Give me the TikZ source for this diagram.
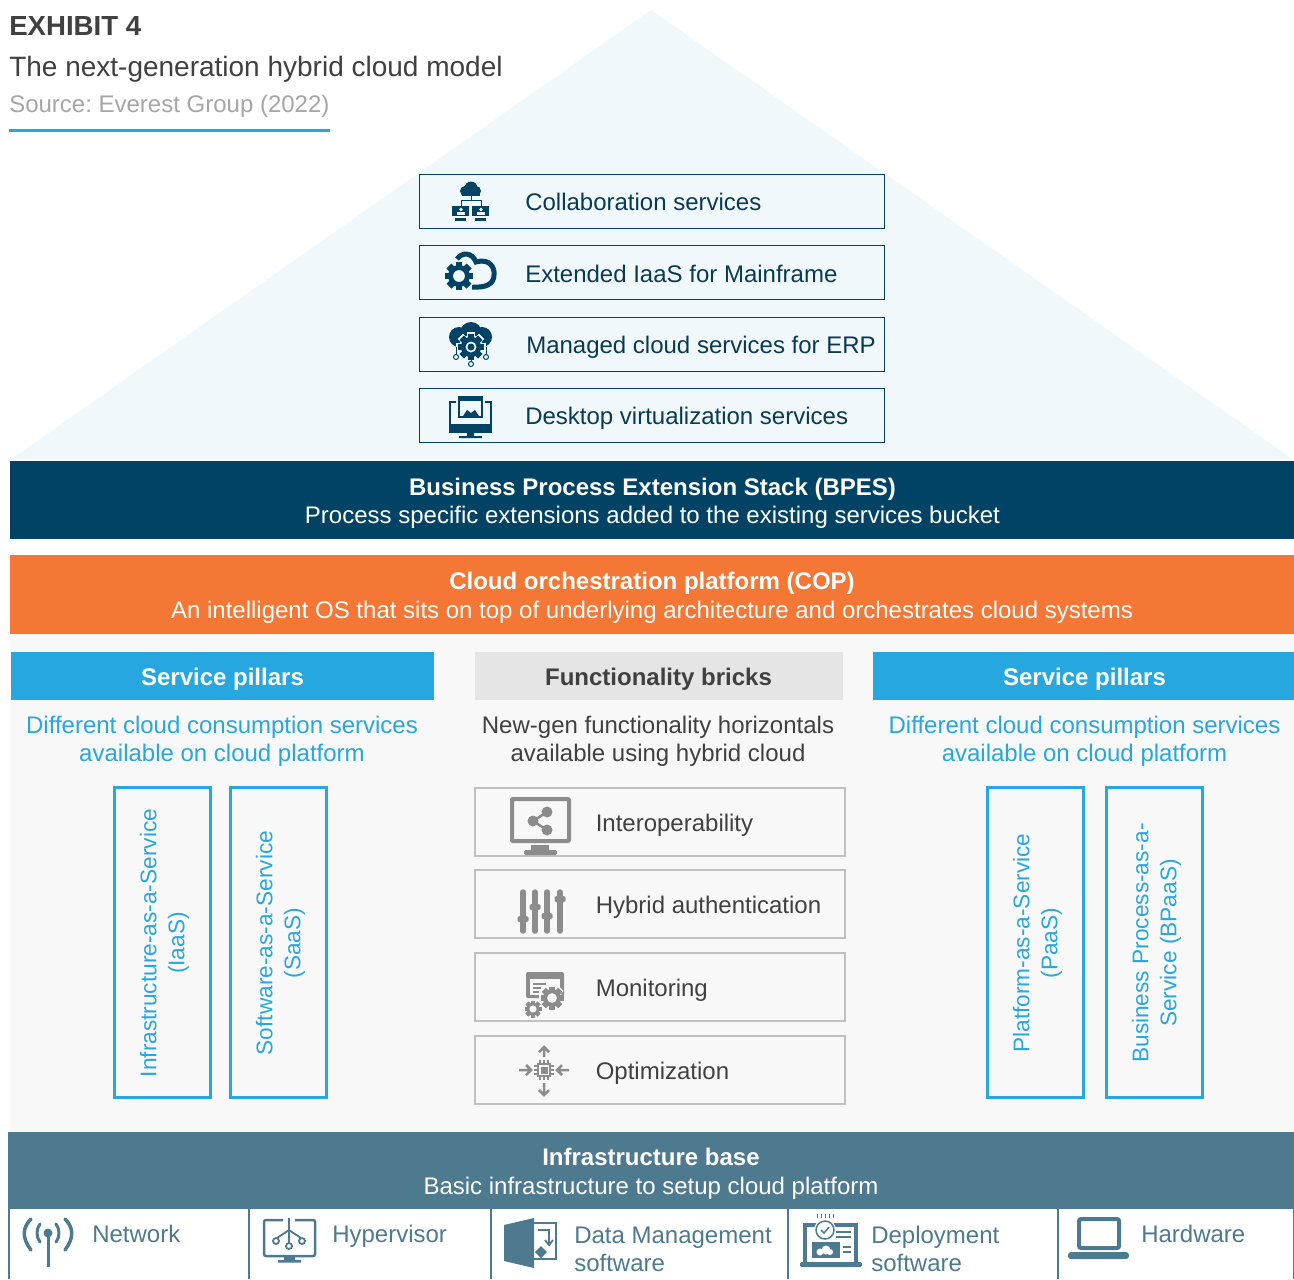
\documentclass[tikz,border=0pt]{standalone}
\usepackage{fontspec}
\setmainfont{Liberation Sans}
\usepackage{xcolor}
\usetikzlibrary{positioning}
\definecolor{hcnavy}{RGB}{0, 67, 100}
\definecolor{hcink}{RGB}{10, 58, 82}
\definecolor{hcorange}{RGB}{244, 119, 53}
\definecolor{hcsky}{RGB}{39, 167, 224}
\definecolor{hcteal}{RGB}{78, 122, 144}
\definecolor{hcgrey}{RGB}{64, 64, 64}
\definecolor{hcicon}{RGB}{140, 140, 140}
\definecolor{hcroof}{RGB}{240, 248, 252}
\definecolor{hcpanel}{RGB}{248, 248, 248}
\def\px{*0.75pt}
% one gear: x, y, radius, colour, hole colour
\newcommand{\gearicon}[5]{
    \foreach \ang in {0,45,...,315}
        \fill[#4, rotate around={\ang:(#1,#2)}] (#1-0.24*#3,#2-#3) rectangle (#1+0.24*#3,#2+#3);
    \fill[#4] (#1,#2) circle (0.78*#3);
    \fill[#5] (#1,#2) circle (0.42*#3);
}

\begin{document}
\frenchspacing
\begin{tikzpicture}[
    x=0.75pt, y=-0.75pt,
    txt/.style={font=\fontsize{18}{21}\selectfont, align=center, inner sep=0pt},
    lefttxt/.style={txt, align=left, anchor=base west},
    band/.style={txt, text=white},
    bandfill/.style={minimum width=1284\px, inner sep=0pt},
    head/.style={inner sep=0pt, minimum height=48\px},
    headtxt/.style={txt, font=\fontsize{18}{21}\selectfont\bfseries},
    svcbox/.style={draw=hcnavy, line width=1.2\px, fill=hcroof, minimum width=465.5\px, minimum height=54.5\px, inner sep=0pt},
    brickbox/.style={draw=hcicon!55, line width=2\px, fill=hcpanel, minimum width=370\px, minimum height=68\px, inner sep=0pt},
    pillar/.style={draw=hcsky, line width=2.2\px, minimum width=96\px, minimum height=310\px, inner sep=0pt},
    rotlab/.style={txt, text=hcsky, rotate=90, font=\fontsize{17}{21}\selectfont},
    iconline/.style={line width=3\px, line cap=round, line join=round}
]
    \useasboundingbox (0,0) rectangle (1294,1279);
    \fill[white] (0,0) rectangle (1294,1279);

    % Backgrounds
    \fill[hcroof] (651,10) -- (1294,460) -- (10,460) -- cycle;
    \fill[hcpanel] (10,634) rectangle (1294,1132);

    % Header
    \node[lefttxt, text=hcgrey, font=\fontsize{20.7}{24}\selectfont\bfseries] (exhibit) at (9,35) {EXHIBIT 4};
    \node[lefttxt, text=hcgrey, font=\fontsize{21}{25}\selectfont] (title) at (9,76) {The next-generation hybrid cloud model};
    \node[lefttxt, text=black!35] (source) at (9,112) {Source: Everest Group (2022)};
    \draw[hcsky, line width=2.5\px] (9,130.5) -- (330,130.5);

    % Services on the roof
    \node[svcbox] (collab) at (652,201.5) {};
    \node[svcbox] (iaas) at (652,272.5) {};
    \node[svcbox] (erp) at (652,344.5) {};
    \node[svcbox] (desktop) at (652,415.5) {};
    \node[lefttxt, text=hcink] (collabtxt) at (525,210) {Collaboration services};
    \node[lefttxt, text=hcink] (iaastxt) at (525,282) {Extended IaaS for Mainframe};
    \node[lefttxt, text=hcink] (erptxt) at (526,353) {Managed cloud services for ERP};
    \node[lefttxt, text=hcink] (desktoptxt) at (525,424) {Desktop virtualization services};

    % Bands
    \node[bandfill, fill=hcnavy, minimum height=78\px] (bpes) at (652,500) {};
    \node[band] (bpestxt) at (652.5,503) {\textbf{Business Process Extension Stack (BPES)}\\Process specific extensions added to the existing services bucket};
    \node[bandfill, fill=hcorange, minimum height=79\px] (cop) at (652,594.5) {};
    \node[band, font=\fontsize{18}{21.7}\selectfont] (coptxt) at (652,598) {\textbf{Cloud orchestration platform (COP)}\\An intelligent OS that sits on top of underlying architecture and orchestrates cloud systems};

    % Column heads
    \node[head, fill=hcsky, minimum width=423\px] (leftpillars) at (222.5,676) {};
    \node[head, fill=black!10, minimum width=368\px] (bricks) at (659,676) {};
    \node[head, fill=hcsky, minimum width=421\px] (rightpillars) at (1083.5,676) {};
    \node[headtxt, text=white] (lefthead) at (222.5,679) {Service pillars};
    \node[headtxt, text=hcgrey] (brickhead) at (658.5,679) {Functionality bricks};
    \node[headtxt, text=white] (righthead) at (1084.5,679) {Service pillars};
    \node[txt, text=hcsky] (leftsub) at (222,741) {Different cloud consumption services\\available on cloud platform};
    \node[txt, text=hcgrey] (bricksub) at (658,741) {New-gen functionality horizontals\\available using hybrid cloud};
    \node[txt, text=hcsky] (rightsub) at (1084.5,741) {Different cloud consumption services\\available on cloud platform};

    % Pillars
    \node[pillar] (iaasbox) at (162.5,942.5) {};
    \node[pillar] (saasbox) at (278.5,942.5) {};
    \node[pillar] (paasbox) at (1035.5,942.5) {};
    \node[pillar] (bpaasbox) at (1154.5,942.5) {};
    \node[rotlab] (iaaslab) at (164.5,943) {Infrastructure-as-a-Service\\(IaaS)};
    \node[rotlab] (saaslab) at (280.5,943) {Software-as-a-Service\\(SaaS)};
    \node[rotlab] (paaslab) at (1037.5,943) {Platform-as-a-Service\\(PaaS)};
    \node[rotlab] (bpaaslab) at (1156.5,943) {Business Process-as-a-\\Service (BPaaS)};

    % Bricks
    \node[brickbox] (interop) at (659.5,821.5) {};
    \node[brickbox] (hybrid) at (659.5,904) {};
    \node[brickbox] (monitor) at (659.5,987) {};
    \node[brickbox] (optim) at (659.5,1069.5) {};
    \node[lefttxt, text=hcgrey] (interoptxt) at (595.5,831) {Interoperability};
    \node[lefttxt, text=hcgrey] (hybridtxt) at (595.5,913) {Hybrid authentication};
    \node[lefttxt, text=hcgrey] (monitortxt) at (595.5,996) {Monitoring};
    \node[lefttxt, text=hcgrey] (optimtxt) at (595.5,1079) {Optimization};

    % Infrastructure base
    \node[bandfill, fill=hcteal, minimum width=1286\px, minimum height=77\px] (infra) at (651,1170.5) {};
    \node[band, font=\fontsize{18}{21.7}\selectfont] (infratxt) at (651,1174) {\textbf{Infrastructure base}\\Basic infrastructure to setup cloud platform};
    \foreach \xpos in {9,249,491,788,1058,1294}
        \draw[hcteal, line width=1.2\px] (\xpos,1209) -- (\xpos,1279);
    \node[lefttxt, text=hcteal] (network) at (92,1242) {Network};
    \node[lefttxt, text=hcteal] (hypervisor) at (332,1242) {Hypervisor};
    \node[lefttxt, text=hcteal] (datamgmt) at (574,1271) {Data Management\\software};
    \node[lefttxt, text=hcteal] (deploy) at (871,1271) {Deployment\\software};
    \node[lefttxt, text=hcteal] (hardware) at (1141,1242) {Hardware};

    % Icon: collaboration
    \fill[hcnavy] (465,191) circle (5) (471,188) circle (6.5) (476,191) circle (5);
    \fill[hcnavy] (462,190) rectangle (480,196);
    \draw[hcnavy, line width=1\px] (471,196) -- (471,200) (461,206) -- (461,200) -- (481,200) -- (481,206);
    \foreach \mx in {461,481} {
        \fill[hcnavy] (\mx-9,206) rectangle (\mx+8,216);
        \fill[hcnavy] (\mx-6,218) rectangle (\mx+5,220.5);
        \fill[hcroof] (\mx,209.5) circle (1.8);
        \fill[hcroof] (\mx-4,215) rectangle (\mx+3.5,212);
    }

    % Icon: gear and cloud
    \draw[hcnavy, line width=5\px] (457,259) .. controls (462,252) and (472,252) .. (476,262) .. controls (490,258) and (495,268) .. (494,275) .. controls (494,284) and (486,288) .. (472,287);
    \gearicon{459}{276}{15.5}{hcroof}{hcroof}
    \gearicon{459}{276}{14}{hcnavy}{hcroof}

    % Icon: managed cloud
    \fill[hcnavy] (459,337) circle (10) (471,333) circle (11) (482,337) circle (10);
    \gearicon{471}{347}{15}{hcroof}{hcroof}
    \gearicon{471}{347}{13}{hcnavy}{hcroof}
    \fill[hcnavy] (471,347) circle (3.5);
    \draw[hcnavy, line width=1\px] (456,347) -- (456,354) (486,347) -- (486,354) (471,358) -- (471,361);
    \draw[hcnavy, line width=1\px] (456,357) circle (2.5) (486,357) circle (2.5) (471,364) circle (2.5);

    % Icon: desktop
    \draw[hcnavy, line width=1.8\px] (456,402) -- (450,402) -- (450,426) (485,402) -- (491,402) -- (491,426);
    \fill[hcnavy] (449,424) rectangle (492,433);
    \fill[hcnavy] (467,433) rectangle (474,436) (459,436) rectangle (482,438);
    \fill[hcnavy] (458,396) rectangle (483,418);
    \fill[hcroof] (460,401) rectangle (481,416);
    \fill[hcnavy] (463,416) -- (467,410) -- (471,413) -- (475,410) -- (479,416) -- cycle;

    % Icon: interoperability
    \draw[hcicon, line width=4\px, rounded corners=1\px] (512,799) rectangle (569,841);
    \fill[hcicon] (531,845) rectangle (549,850);
    \fill[hcicon, rounded corners=1.5\px] (524,850) rectangle (557,855);
    \draw[hcicon, line width=2.5\px] (547,812) -- (533,821) -- (547,830);
    \fill[hcicon] (547,812) circle (5.5) (533,821) circle (5.5) (547,830) circle (5.5);

    % Icon: sliders
    \foreach \sx/\sy in {523/919,535/907,547/916,560/899} {
        \draw[hcicon, line width=5.5\px, line cap=round] (\sx,892) -- (\sx,931);
        \fill[hcicon, rounded corners=1.5\px] (\sx-5.5,\sy-3) rectangle (\sx+5.5,\sy+3);
    }

    % Icon: monitoring
    \fill[hcicon, rounded corners=2\px] (526,972) rectangle (564,998);
    \fill[hcpanel] (530,979) rectangle (560,995);
    \draw[hcicon, line width=1.5\px] (533,984) -- (546,984) (533,988) -- (541,988) (533,992) -- (539,992);
    \gearicon{552}{998}{13}{hcpanel}{hcpanel}
    \gearicon{552}{998}{11.5}{hcicon}{hcpanel}
    \gearicon{533}{1009}{8.5}{hcicon}{hcpanel}

    % Icon: optimization
    \foreach \tk in {-4,0,4} {
        \draw[hcicon, line width=1.5\px] (544+\tk,1060) -- (544+\tk,1080) (534,1070+\tk) -- (554,1070+\tk);
    }
    \fill[hcicon] (537,1063) rectangle (551,1077);
    \fill[hcpanel] (539,1065) rectangle (549,1075);
    \fill[hcicon] (540.5,1066.5) rectangle (547.5,1073.5);
    \draw[hcicon, line width=2.5\px] (544,1057) -- (544,1047) (539,1052) -- (544,1047) -- (549,1052);
    \draw[hcicon, line width=2.5\px] (544,1083) -- (544,1095) (539,1090) -- (544,1095) -- (549,1090);
    \draw[hcicon, line width=2.5\px] (531,1070) -- (519,1070) (526,1065) -- (531,1070) -- (526,1075);
    \draw[hcicon, line width=2.5\px] (557,1070) -- (569,1070) (562,1065) -- (557,1070) -- (562,1075);

    % Icon: network
    \draw[hcteal, line width=3\px] (48,1233) -- (48,1267);
    \fill[hcteal] (48,1233) circle (4.5);
    \draw[hcteal, iconline] (40,1224) .. controls (36,1229) and (36,1237) .. (40,1242);
    \draw[hcteal, iconline] (56,1224) .. controls (60,1229) and (60,1237) .. (56,1242);
    \draw[hcteal, iconline, line width=3.5\px] (31,1219) .. controls (22,1228) and (22,1238) .. (31,1250);
    \draw[hcteal, iconline, line width=3.5\px] (65,1219) .. controls (74,1228) and (74,1238) .. (65,1250);

    % Icon: hypervisor
    \draw[hcteal, line width=2.5\px, rounded corners=2\px] (283,1220) -- (264,1220) -- (264,1256) -- (315,1256) -- (315,1220) -- (295,1220);
    \fill[hcteal] (284,1256) rectangle (295,1261) (278,1260) rectangle (301,1262.5);
    \draw[hcteal, line width=1.8\px] (289,1218) -- (289,1243) (289,1230) -- (277,1238) (289,1230) -- (301,1238);
    \draw[hcteal, line width=1.8\px] (276,1241) circle (3) (289,1246) circle (3) (302,1241) circle (3);

    % Icon: data management
    \fill[hcteal] (504,1225) -- (534,1218) -- (534,1268) -- (504,1261) -- cycle;
    \draw[hcteal, line width=1.5\px] (534,1223) -- (556,1223) -- (556,1259) -- (534,1259);
    \draw[hcteal, line width=1.8\px] (538,1230) -- (549,1230) -- (549,1243) (545,1240) -- (549,1245) -- (553,1240);
    \fill[hcteal] (541,1246) -- (547,1252) -- (541,1258) -- (535,1252) -- cycle;

    % Icon: deployment
    \draw[hcteal, line width=3.5\px] (805,1264) -- (805,1225) -- (856,1225) -- (856,1264);
    \fill[hcteal, rounded corners=1.5\px] (800,1262) rectangle (862,1267);
    \fill[hcteal] (812,1242) rectangle (840,1258);
    \fill[white] (820,1252) circle (3.5) (826,1250) circle (4.5) (830,1252) circle (3);
    \draw[hcteal, line width=1.5\px] (836,1232) -- (851,1232) (836,1237) -- (851,1237) (843,1247) -- (851,1247) (843,1252) -- (851,1252);
    \fill[white] (825,1230) circle (11);
    \draw[hcteal, line width=1.5\px] (825,1230) circle (9);
    \draw[hcteal, line width=1.5\px] (821,1230) -- (824,1233) -- (829,1227);
    \foreach \dx in {817,821,825,829,833}
        \draw[hcteal, line width=1\px] (\dx,1214) -- (\dx,1218);

    % Icon: hardware
    \draw[hcteal, line width=4\px, rounded corners=2\px] (1079,1219) rectangle (1119,1248);
    \fill[hcteal, rounded corners=3\px] (1068,1252) rectangle (1129,1259);

\end{tikzpicture}
\end{document}
